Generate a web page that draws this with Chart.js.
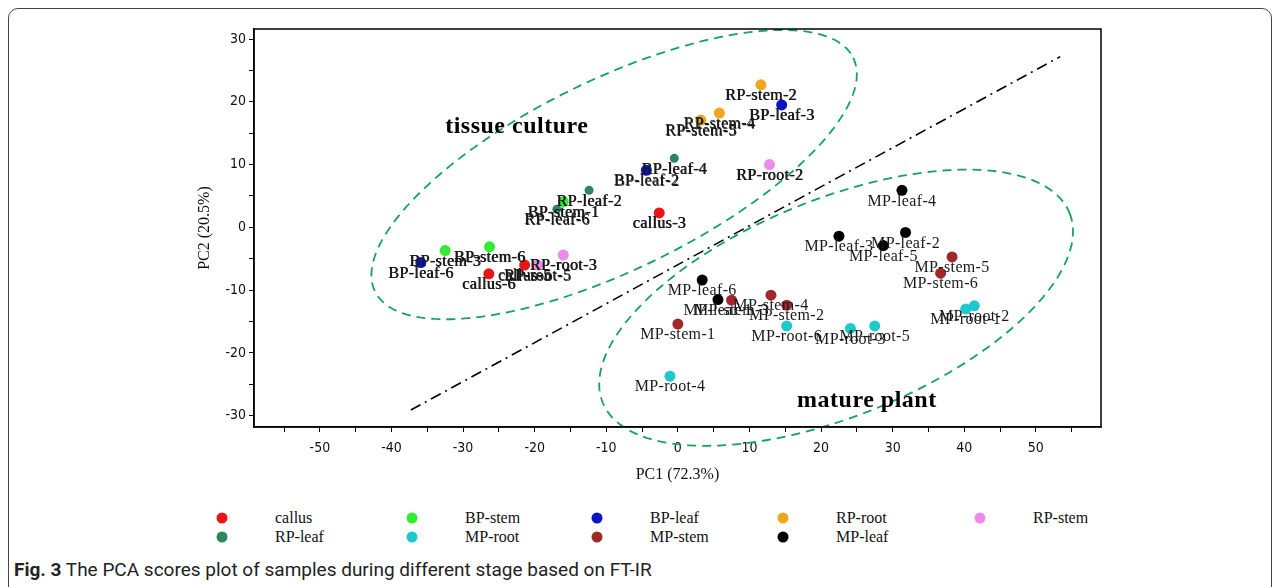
<!DOCTYPE html>
<html>
<head>
<meta charset="utf-8">
<script src="https://cdn.jsdelivr.net/npm/chart.js@4.4.1/dist/chart.umd.min.js"></script>
<style>
  html, body { margin: 0; padding: 0; background: #fff; }
  body { width: 1282px; height: 587px; position: relative; overflow: hidden; }
  #frame { position: absolute; left: 8px; top: 8px; width: 1264px; height: 600px;
           border: 1.5px solid #444; border-radius: 10px; box-sizing: border-box; }
  #wrap { position: absolute; left: 0; top: 0; width: 1282px; height: 490px; }
  .lg { position: absolute; font: 16px "Liberation Serif", "Times New Roman", serif; color: #111;
        line-height: 18px; transform: translateY(-9px); }
  .dot { position: absolute; width: 11px; height: 11px; border-radius: 50%; transform: translate(-5.5px, -5.5px); }
  #caption { position: absolute; left: 14px; top: 558px; font: 19px Roboto, "Open Sans", sans-serif; color: #222; }
</style>
</head>
<body>
<div id="frame"></div>
<div id="wrap"><canvas id="pca"></canvas></div>
<div id="legend"></div>
<div id="caption"><b>Fig. 3</b> The PCA scores plot of samples during different stage based on FT-IR</div>
<script>
// groups as in the legend
const groups = ['callus', 'BP-stem', 'BP-leaf', 'RP-root', 'RP-stem', 'RP-leaf', 'MP-root', 'MP-stem', 'MP-leaf'];
const groupColors = ['rgb(235,20,20)', 'rgb(50,235,50)', 'rgb(10,20,200)', 'rgb(240,165,30)', 'rgb(235,140,235)',
                     'rgb(45,135,90)', 'rgb(30,200,205)', 'rgb(160,40,40)', 'rgb(0,0,0)'];

// scores, one row per group
const pc1 = [
  [-2.6, -21.4, -26.4],
  [-32.5, -26.3, -16.0],
  [14.5, -4.4, -35.9],
  [11.6, 5.8, 3.2],
  [12.8, -16.0, -19.6],
  [-0.5, -12.4, -16.9],
  [40.2, 41.4, 24.1, -1.1, 27.5, 15.2],
  [0.0, 15.2, 7.5, 13.0, 38.3, 36.7],
  [5.6, 31.8, 22.5, 31.3, 28.7, 3.4]
];
const pc2 = [
  [2.3, -6.0, -7.4],
  [-3.7, -3.1, 4.1],
  [19.5, 9.1, -5.6],
  [22.7, 18.2, 17.1],
  [10.0, -4.4, -6.0],
  [11.0, 5.9, 2.9],
  [-13.0, -12.5, -16.1, -23.7, -15.7, -15.7],
  [-15.4, -12.4, -11.6, -10.8, -4.7, -7.3],
  [-11.5, -0.8, -1.4, 5.9, -2.9, -8.4]
];
const sampleNames = [
  ['callus-3', 'callus-5', 'callus-6'],
  ['BP-stem-3', 'BP-stem-6', 'BP-stem-1'],
  ['BP-leaf-3', 'BP-leaf-2', 'BP-leaf-6'],
  ['RP-stem-2', 'RP-stem-4', 'RP-stem-5'],
  ['RP-root-2', 'RP-root-3', 'RP-root-5'],
  ['RP-leaf-4', 'RP-leaf-2', 'RP-leaf-6'],
  ['MP-root-1', 'MP-root-2', 'MP-root-3', 'MP-root-4', 'MP-root-5', 'MP-root-6'],
  ['MP-stem-1', 'MP-stem-2', 'MP-stem-3', 'MP-stem-4', 'MP-stem-5', 'MP-stem-6'],
  ['MP-leaf-1', 'MP-leaf-2', 'MP-leaf-3', 'MP-leaf-4', 'MP-leaf-5', 'MP-leaf-6']
];

// dash-dot separating line
const splitX = [-37.3, 53.4];
const splitY = [-29.1, 27.2];

// group outlines (center + two half axes, data units) and their captions
const outlines = [
  { c: [-8.9, 8.4], a: [33.4, 18.6], b: [5.8, -13.6] },
  { c: [22.1, -12.8], a: [32.6, 15.1], b: [5.66, -16.0] }
];
const notes = [
  { text: 'tissue culture', x: -22.5, y: 16.0 },
  { text: 'mature plant', x: 26.4, y: -27.7 }
];

const datasets = groups.map((g, i) => ({
  type: 'scatter',
  label: g,
  names: sampleNames[i],
  heavy: i < 6, // labels of the tissue-culture samples print darker (overprinted)
  data: pc1[i].map((x, j) => ({ x: x, y: pc2[i][j] })),
  backgroundColor: groupColors[i],
  borderWidth: 0,
  pointRadius: g === 'RP-leaf' ? 4.5 : 5.5
}));
datasets.unshift({
  type: 'line',
  label: 'split',
  data: splitX.map((x, i) => ({ x: x, y: splitY[i] })),
  borderColor: '#000',
  borderWidth: 1.6,
  borderDash: [11, 5, 2, 5],
  pointRadius: 0,
  fill: false
});

const extras = {
  id: 'extras',
  beforeDatasetsDraw(chart) {
    const { ctx, scales: { x, y } } = chart;
    ctx.save();
    ctx.strokeStyle = 'rgb(20,165,90)';
    ctx.lineWidth = 1.8;
    ctx.setLineDash([9, 6]);
    outlines.forEach(o => {
      ctx.beginPath();
      for (let k = 0; k <= 200; k++) {
        const t = k / 200 * Math.PI * 2;
        const vx = o.c[0] + o.a[0] * Math.cos(t) + o.b[0] * Math.sin(t);
        const vy = o.c[1] + o.a[1] * Math.cos(t) + o.b[1] * Math.sin(t);
        const px = x.getPixelForValue(vx), py = y.getPixelForValue(vy);
        if (k === 0) ctx.moveTo(px, py); else ctx.lineTo(px, py);
      }
      ctx.stroke();
    });
    ctx.setLineDash([]);
    ctx.font = 'bold 24px "Liberation Serif", "Times New Roman", serif';
    ctx.letterSpacing = '0.5px';
    ctx.fillStyle = '#000';
    ctx.textAlign = 'center';
    ctx.textBaseline = 'middle';
    notes.forEach(n => ctx.fillText(n.text, x.getPixelForValue(n.x), y.getPixelForValue(n.y)));
    ctx.restore();
  },
  afterDatasetsDraw(chart) {
    const { ctx, chartArea: ca } = chart;
    ctx.save();
    ctx.font = '16px "Liberation Serif", "Times New Roman", serif';
    ctx.letterSpacing = '0.35px';
    ctx.fillStyle = '#1a1a1a';
    ctx.textAlign = 'center';
    ctx.textBaseline = 'middle';
    chart.data.datasets.forEach((ds, i) => {
      if (!ds.names) return;
      chart.getDatasetMeta(i).data.forEach((pt, j) => {
        ctx.fillText(ds.names[j], pt.x, pt.y + 11);
        if (ds.heavy) ctx.fillText(ds.names[j], pt.x + 0.7, pt.y + 11.3);
      });
    });
    ctx.letterSpacing = '0px';
    ctx.strokeStyle = '#000';
    ctx.lineWidth = 1.5;
    ctx.strokeRect(ca.left, ca.top, ca.right - ca.left, ca.bottom - ca.top);
    ctx.restore();
  }
};

const tickFont = { family: '"DejaVu Sans Condensed", "DejaVu Sans", sans-serif', size: 14 };
const titleFont = { family: '"Liberation Serif", "Times New Roman", serif', size: 16 };

new Chart(document.getElementById('pca'), {
  data: { datasets },
  options: {
    responsive: true,
    maintainAspectRatio: false,
    animation: false,
    layout: { padding: { left: 191, right: 181, top: 29, bottom: 2 } },
    plugins: { legend: { display: false }, tooltip: { enabled: false } },
    scales: {
      x: {
        type: 'linear', min: -59.2, max: 59.1,
        afterFit: s => { s.height = 61; },
        border: { display: true, color: '#000', width: 1.5 },
        grid: { drawOnChartArea: false, drawTicks: true, tickLength: 5, color: '#000' },
        ticks: { stepSize: 5, includeBounds: false, padding: 8, color: '#111', font: tickFont, maxRotation: 0,
                 autoSkip: false, callback: v => (v % 10 === 0 ? String(v) : '') },
        title: { display: true, text: 'PC1 (72.3%)', color: '#111', font: titleFont }
      },
      y: {
        type: 'linear', min: -31.8, max: 31.6,
        afterFit: s => { s.width = 63; },
        border: { display: true, color: '#000', width: 1.5 },
        grid: { drawOnChartArea: false, drawTicks: true, tickLength: 5, color: '#000' },
        ticks: { stepSize: 5, includeBounds: false, padding: 3, color: '#111', font: tickFont,
                 autoSkip: false, callback: v => (v % 10 === 0 ? String(v) : '') },
        title: { display: true, text: 'PC2 (20.5%)', color: '#111', font: titleFont }
      }
    }
  },
  plugins: [extras]
});

// legend in two rows of five columns
const legCols = [222, 412, 597, 783, 980];
const legRows = [518, 537];
const legend = document.getElementById('legend');
groups.forEach((g, i) => {
  const cx = legCols[i % 5], cy = legRows[Math.floor(i / 5)];
  const d = document.createElement('div');
  d.className = 'dot';
  d.style.left = cx + 'px'; d.style.top = cy + 'px';
  d.style.background = groupColors[i];
  legend.appendChild(d);
  const t = document.createElement('div');
  t.className = 'lg';
  t.style.left = (cx + 53) + 'px'; t.style.top = cy + 'px';
  t.textContent = g;
  legend.appendChild(t);
});
</script>
</body>
</html>
